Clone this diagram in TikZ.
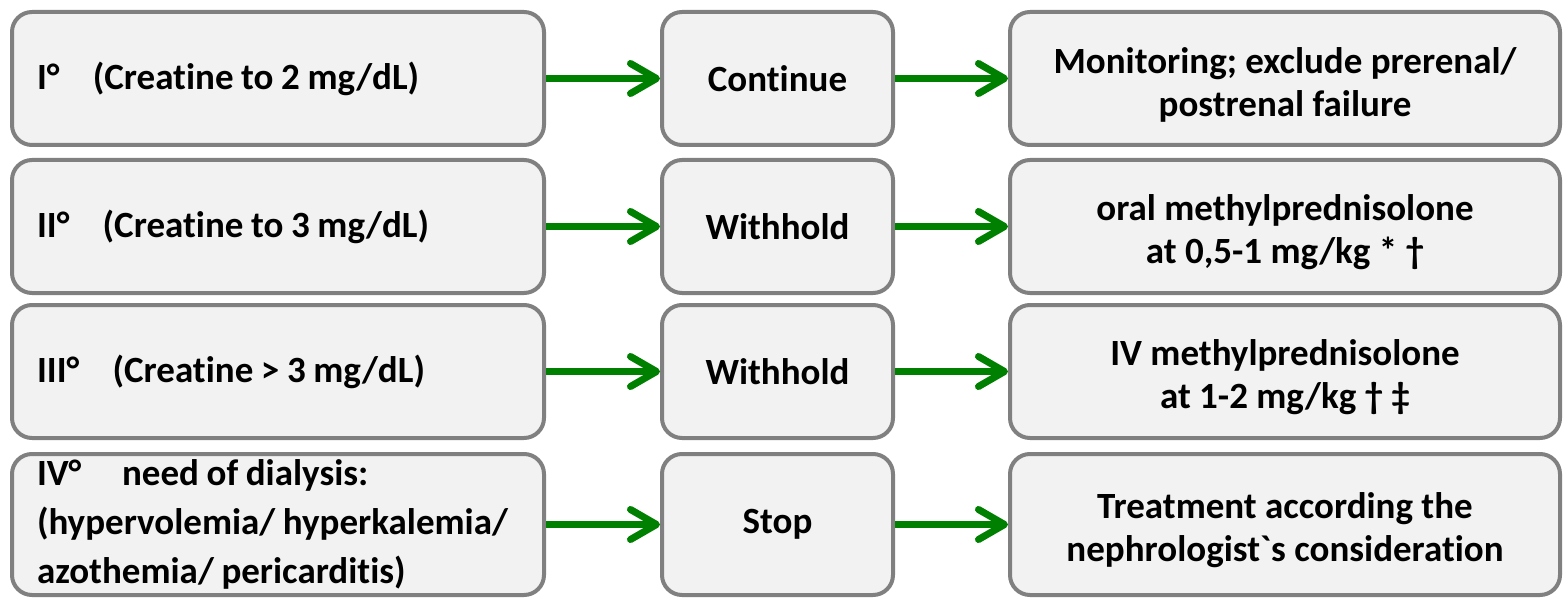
\documentclass[tikz,border=0pt]{standalone}
\usepackage{fontspec}
\setmainfont{Carlito}[Ligatures={TeXOff,NoCommon}]
\usetikzlibrary{arrows.meta}
\definecolor{boxfill}{RGB}{242,242,242}
\definecolor{boxline}{RGB}{128,128,128}
\definecolor{arrgreen}{RGB}{0,128,0}
\tikzset{
  txt/.style={font=\bfseries\fontsize{18.5pt}{24.5pt}\selectfont, text=black},
  box/.style={draw=boxline, fill=boxfill, line width=2pt, rounded corners=10pt,
    inner ysep=2pt, txt},
  lbox/.style={box, minimum width=266pt, text width=241pt, inner xsep=12.5pt, align=left,
    execute at begin node={\spaceskip=3.8pt\relax}},
  mbox/.style={box, minimum width=115.5pt, align=center},
  rbox/.style={box, minimum width=275pt},
  rtext/.style={txt, align=center, yshift=-3pt,
    font=\bfseries\fontsize{18.5pt}{21.5pt}\selectfont},
  arr/.style={draw=arrgreen, line width=3.5pt,
    -{Straight Barb[length=13pt, width=15pt, round]}}
}
\begin{document}
\begin{tikzpicture}[x=0.5pt,y=-0.5pt]
\useasboundingbox (0,0) rectangle (1564,599);
% row 1
\node[lbox, minimum height=66.5pt] (l1) at (278,78.5) {\mbox{I°\hspace{0.9em}(Creatine to 2 mg/dL)}};
\node[mbox, minimum height=66.5pt] (m1) at (777.5,78.5) {Continue};
\node[rbox, minimum height=66.5pt] (r1) at (1285,78.5) {};
\node[rtext] (r1t) at (r1.center) {Monitoring; exclude prerenal/\\postrenal failure};
% row 2
\node[lbox, minimum height=66.5pt] (l2) at (278,226.5) {\mbox{II°\hspace{0.9em}(Creatine to 3 mg/dL)}};
\node[mbox, minimum height=66.5pt] (m2) at (777.5,226.5) {Withhold};
\node[rbox, minimum height=66.5pt] (r2) at (1285,226.5) {};
\node[rtext] (r2t) at (r2.center) {oral methylprednisolone\\at 0,5-1 mg/kg * †};
% row 3
\node[lbox, minimum height=66.5pt] (l3) at (278,371.5) {\mbox{III°\hspace{0.9em}(Creatine > 3 mg/dL)}};
\node[mbox, minimum height=66.5pt] (m3) at (777.5,371.5) {Withhold};
\node[rbox, minimum height=66.5pt] (r3) at (1285,371.5) {};
\node[rtext] (r3t) at (r3.center) {IV methylprednisolone\\at 1-2 mg/kg † ‡};
% row 4
\node[lbox, minimum height=70.5pt] (l4) at (278,524.5) {\mbox{IV°\hspace{1.1em}need of dialysis:}\\\mbox{(hypervolemia/ hyperkalemia/}\\\mbox{azothemia/ pericarditis)}};
\node[mbox, minimum height=70.5pt] (m4) at (777.5,524.5) {Stop};
\node[rbox, minimum height=70.5pt] (r4) at (1285,524.5) {};
\node[rtext] (r4t) at (r4.center) {Treatment according the\\nephrologist`s consideration};
% arrows
\foreach \i in {1,2,3,4}{
  \draw[arr] (l\i.east) -- (m\i.west);
  \draw[arr] (m\i.east) -- (r\i.west);
}
\end{tikzpicture}
\end{document}
